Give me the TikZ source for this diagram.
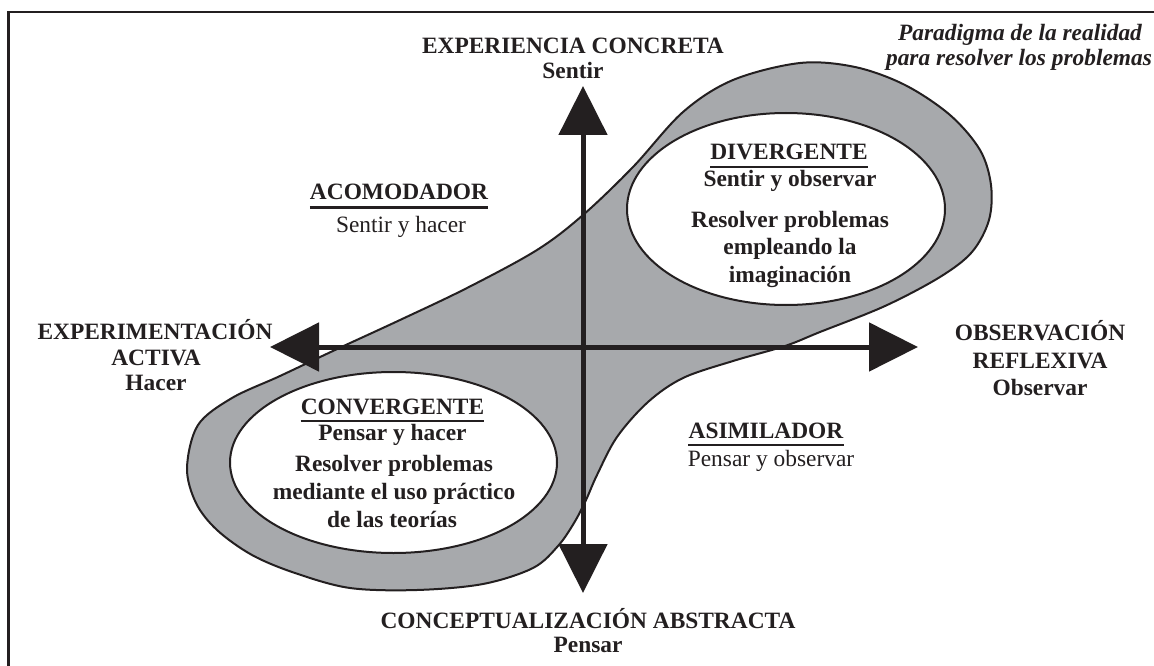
\documentclass[tikz,border=0pt]{standalone}
\usepackage{fontspec}
\setmainfont{Liberation Serif}
\usetikzlibrary{arrows.meta,shapes.geometric}
\definecolor{ink}{HTML}{231F20}
\definecolor{band}{HTML}{A7A9AC}
\newcommand\fs{\fontsize{23.4}{25}\selectfont}
\begin{document}
\begin{tikzpicture}[x=1pt,y=-1pt,
  lbl/.style={inner sep=0pt, anchor=base, font=\fs\bfseries, text=ink},
  reg/.style={inner sep=0pt, anchor=base, font=\fs, text=ink},
  ital/.style={inner sep=0pt, anchor=base, font=\fs\bfseries\itshape, text=ink},
  axis/.style={line width=5pt, draw=ink, -{Triangle[length=49pt,width=48pt]}},
  ul/.style={line width=2.5pt, draw=ink},
  outline/.style={line width=2pt, draw=ink},
  hole/.style={ellipse, outline, fill=white, inner sep=0pt}]
\useasboundingbox (0,0) rectangle (1154,666);
% frame (cropped)
\draw[line width=2.5pt, ink] (8.7,666) -- (8.7,12) -- (1154,12);
% paradigm band
\draw[outline, fill=band] plot[smooth cycle, tension=0.55] coordinates {
 (187,468) (198,425) (232,398) (280,376) (335,350) (400,320) (467,288)
 (537,250) (583,215) (633,167) (683,112) (733,80) (800,63) (855,67)
 (905,85) (950,115) (980,150) (991,185) (989,220) (972,252) (940,277)
 (885,306) (820,332) (785,346) (733,361) (683,378) (648,402) (617,437)
 (597,475) (586,500) (574,523) (558,546) (533,568) (483,584) (417,590)
 (350,588) (295,573) (252,555) (217,530) (196,503)};
\node[hole, minimum width=318pt, minimum height=192pt] (div) at (786,209) {};
\node[hole, minimum width=327pt, minimum height=181pt] (con) at (393.5,462.5) {};
% axes
\coordinate (c) at (583,347);
\coordinate (up) at (583,86);
\coordinate (dn) at (583,593);
\coordinate (lf) at (270,347);
\coordinate (rt) at (918,347);
\draw[axis] (c) -- (up);
\draw[axis] (c) -- (dn);
\draw[axis] (c) -- (lf);
\draw[axis] (c) -- (rt);
% axis labels
\node[lbl] (ec1) at (573,54) {EXPERIENCIA CONCRETA};
\node[lbl] (ec2) at (573,79) {Sentir};
\node[lbl] (ea1) at (155,339.5) {EXPERIMENTACIÓN};
\node[lbl] (ea2) at (156,365) {ACTIVA};
\node[lbl] (ea3) at (156,390) {Hacer};
\node[lbl] (or1) at (1040,340.5) {OBSERVACIÓN};
\node[lbl] (or2) at (1040,368) {REFLEXIVA};
\node[lbl] (or3) at (1040,395.5) {Observar};
\node[lbl] (ca1) at (588,628) {CONCEPTUALIZACIÓN ABSTRACTA};
\node[lbl] (ca2) at (588,652) {Pensar};
% paradigm caption
\node[ital] (pa1) at (1020,41) {Paradigma de la realidad};
\node[ital] (pa2) at (1019,66) {para resolver los problemas};
% quadrant styles
\node[lbl] (acom) at (399,200) {ACOMODADOR};
\draw[ul] ([yshift=-7.5pt]acom.base west) -- ([yshift=-7.5pt]acom.base east);
\node[reg] (acom2) at (401,232) {Sentir y hacer};
\node[lbl] (asim) at (766,438) {ASIMILADOR};
\draw[ul] ([yshift=-7pt]asim.base west) -- ([yshift=-7pt]asim.base east);
\node[reg] (asim2) at (771,466.5) {Pensar y observar};
% divergente
\node[lbl] (dv1) at (789,160) {DIVERGENTE};
\draw[ul] ([yshift=-7pt]dv1.base west) -- ([yshift=-7pt]dv1.base east);
\node[lbl] (dv2) at (790,186) {Sentir y observar};
\node[lbl] (dv3) at (790,227) {Resolver problemas};
\node[lbl] (dv4) at (790,254.5) {empleando la};
\node[lbl] (dv5) at (790,282) {imaginación};
% convergente
\node[lbl] (cv1) at (392.5,414) {CONVERGENTE};
\draw[ul] ([yshift=-7pt]cv1.base west) -- ([yshift=-7pt]cv1.base east);
\node[lbl] (cv2) at (392.5,440) {Pensar y hacer};
\node[lbl] (cv3) at (394,471) {Resolver problemas};
\node[lbl] (cv4) at (394,499) {mediante el uso práctico};
\node[lbl] (cv5) at (392,527) {de las teorías};
\end{tikzpicture}
\end{document}
